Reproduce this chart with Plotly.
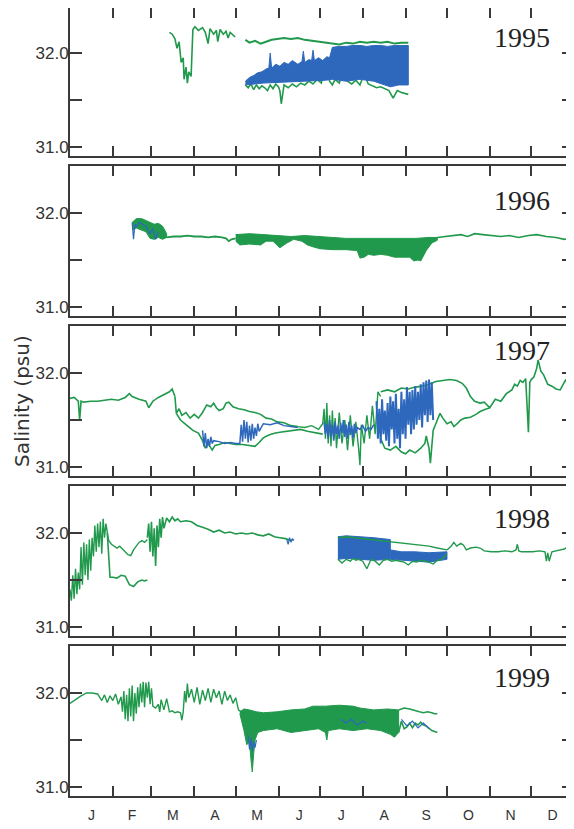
import plotly.graph_objects as go

# ---------------- axis / label data ----------------
years = ["1995", "1996", "1997", "1998", "1999"]
month_starts = [31, 59, 90, 120, 151, 181, 212, 243, 273, 304, 334]
month_mids = [15.5, 45, 74.5, 105, 135.5, 166, 196.5, 227.5, 258, 288.5, 319, 349.5]
month_labels = ["J", "F", "M", "A", "M", "J", "J", "A", "S", "O", "N", "D"]
y_tickvals = [31.0, 31.5, 32.0]
y_ticktext = ["31.0", "", "32.0"]

# ---------------- 1995 ----------------
g95a_d = [72, 74, 76, 77.5, 79, 80.5, 82, 82.6, 84, 85, 86, 87.7, 89, 90.5, 93, 96, 98, 100, 101.4,
          104, 106, 107, 108.7, 111, 113, 114.5, 116, 118, 119.6]
g95a_s = [32.22, 32.20, 32.15, 32.05, 32.12, 31.90, 31.95, 31.72, 31.85, 31.68, 31.80, 31.75, 32.25,
          32.28, 32.24, 32.27, 32.22, 32.10, 32.26, 32.20, 32.24, 32.12, 32.25, 32.20, 32.23, 32.16,
          32.22, 32.19, 32.17]
g95b_d = [127, 130, 134, 138, 142, 146, 150, 155, 160, 165, 170, 175, 180, 185, 190, 195, 200, 205,
          210, 215, 220, 225, 230, 235, 240, 245]
g95b_s = [32.14, 32.11, 32.13, 32.10, 32.12, 32.14, 32.15, 32.16, 32.15, 32.16, 32.14, 32.13, 32.12,
          32.11, 32.10, 32.09, 32.11, 32.10, 32.12, 32.11, 32.12, 32.11, 32.12, 32.10, 32.11, 32.11]
g95c_d = [127, 129, 131, 133, 135, 137, 139, 141, 143, 145, 147, 149, 151, 152, 153, 155, 158, 161,
          164, 167, 170, 173, 176, 179, 182, 185, 188, 190, 192, 195, 198, 201, 204, 207, 210, 213,
          216, 219, 222, 225, 228, 231, 234, 237, 240, 243, 245]
g95c_s = [31.66, 31.63, 31.67, 31.61, 31.66, 31.62, 31.65, 31.63, 31.60, 31.66, 31.62, 31.67, 31.64,
          31.60, 31.46, 31.66, 31.63, 31.67, 31.64, 31.68, 31.66, 31.70, 31.67, 31.72, 31.68, 31.88,
          31.70, 31.66, 31.72, 31.68, 31.82, 31.70, 31.67, 31.71, 31.66, 31.78, 31.67, 31.65, 31.63,
          31.64, 31.62, 31.60, 31.52, 31.60, 31.58, 31.57, 31.56]
b95_hi_d = [127, 130, 133, 136, 139, 142, 144, 145, 146, 149, 152, 155, 158, 161, 165, 168, 169, 170,
            173, 175, 176, 177, 180, 183, 186, 188, 190, 195, 200, 205, 210, 215, 220, 225, 230, 235,
            240, 245]
b95_hi = [31.70, 31.74, 31.76, 31.79, 31.80, 31.83, 31.84, 32.00, 31.84, 31.88, 31.86, 31.90, 31.88,
          31.92, 31.88, 31.91, 32.02, 31.90, 31.93, 31.92, 32.03, 31.92, 31.95, 31.92, 31.96, 31.95,
          32.06, 32.07, 32.07, 32.08, 32.08, 32.07, 32.08, 32.08, 32.07, 32.08, 32.08, 32.08]
b95_lo_d = [127, 140, 155, 170, 185, 190, 200, 210, 220, 225, 232, 238, 245]
b95_lo = [31.66, 31.68, 31.69, 31.70, 31.71, 31.72, 31.70, 31.72, 31.70, 31.68, 31.64, 31.66, 31.66]

# ---------------- 1996 ----------------
g96a_hi_d = [45, 48, 52, 55, 58, 61, 64, 67, 70]
g96a_hi = [31.90, 31.94, 31.94, 31.92, 31.90, 31.88, 31.89, 31.86, 31.78]
g96a_lo_d = [45, 48, 52, 55, 58, 61, 64, 67, 70]
g96a_lo = [31.82, 31.84, 31.82, 31.80, 31.73, 31.72, 31.74, 31.72, 31.74]
g96b_d = [70, 75, 80, 85, 90, 95, 100, 105, 110, 113, 115, 117, 120]
g96b_s = [31.74, 31.75, 31.75, 31.76, 31.75, 31.75, 31.74, 31.75, 31.74, 31.73, 31.70, 31.72, 31.73]
g96c_hi_d = [120, 130, 140, 150, 160, 170, 180, 190, 200, 210, 220, 230, 240, 250, 260, 266]
g96c_hi = [31.77, 31.78, 31.77, 31.76, 31.75, 31.76, 31.75, 31.74, 31.73, 31.73, 31.73, 31.73, 31.73,
           31.73, 31.74, 31.74]
g96c_lo_d = [120, 123, 130, 138, 142, 147, 152, 157, 162, 168, 172, 176, 181, 190, 200, 208, 210, 213,
             216, 220, 225, 230, 235, 240, 246, 249, 252, 254, 258, 262, 266]
g96c_lo = [31.70, 31.66, 31.67, 31.66, 31.70, 31.70, 31.63, 31.68, 31.72, 31.70, 31.66, 31.64, 31.62,
           31.61, 31.61, 31.60, 31.52, 31.53, 31.56, 31.55, 31.56, 31.55, 31.53, 31.53, 31.53, 31.49,
           31.50, 31.49, 31.60, 31.68, 31.71]
g96d_d = [266, 272, 278, 283, 288, 293, 299, 305, 312, 318, 325, 332, 338, 345, 352, 358, 362, 365]
g96d_s = [31.74, 31.75, 31.76, 31.77, 31.75, 31.78, 31.77, 31.76, 31.75, 31.76, 31.74, 31.76, 31.77,
          31.75, 31.74, 31.72, 31.73, 31.74]
b96_d = [45, 46, 47, 48, 50, 55, 58, 60, 62, 64]
b96_s = [31.90, 31.72, 31.88, 31.85, 31.90, 31.86, 31.78, 31.84, 31.72, 31.80]

# ---------------- 1997 ----------------
g97a_d = [0, 3, 6, 7, 8, 10, 15, 20, 25, 30, 35, 40, 43, 45, 50, 55, 57, 60, 64, 68, 72, 74, 76]
g97a_s = [31.73, 31.74, 31.70, 31.50, 31.70, 31.69, 31.70, 31.70, 31.71, 31.72, 31.71, 31.74, 31.78,
          31.75, 31.72, 31.70, 31.63, 31.70, 31.74, 31.77, 31.80, 31.83, 31.75]
g97b_d = [76, 77, 79, 81, 84, 87, 90, 93, 96, 99, 102, 104, 106, 108, 111, 113, 115, 118, 122, 126,
          130, 134, 138, 142, 146, 150, 155, 160, 165]
g97b_s = [31.75, 31.57, 31.62, 31.55, 31.58, 31.52, 31.56, 31.52, 31.58, 31.66, 31.64, 31.68, 31.63,
          31.60, 31.62, 31.68, 31.69, 31.64, 31.62, 31.61, 31.59, 31.58, 31.56, 31.52, 31.51, 31.48,
          31.47, 31.44, 31.43]
g97c_d = [77, 80, 84, 89, 93, 96, 98, 100, 103, 105, 108, 112, 116, 120, 125, 130, 134, 137, 140, 144,
          148, 152, 157, 162, 167, 172, 178, 183]
g97c_s = [31.57, 31.50, 31.45, 31.39, 31.36, 31.28, 31.20, 31.25, 31.18, 31.23, 31.24, 31.26, 31.25,
          31.24, 31.24, 31.23, 31.22, 31.26, 31.31, 31.34, 31.36, 31.37, 31.38, 31.39, 31.40, 31.38,
          31.36, 31.35]
g97d_d = [165, 170, 175, 180, 183, 184, 185, 186, 187, 188, 189, 190, 191, 192, 193, 195, 197, 199,
          201, 203, 205, 207, 209, 210, 211, 213, 215, 217, 219, 221, 223, 225]
g97d_s = [31.43, 31.42, 31.44, 31.40, 31.46, 31.62, 31.30, 31.68, 31.25, 31.55, 31.22, 31.60, 31.30,
          31.52, 31.20, 31.58, 31.25, 31.50, 31.18, 31.55, 31.22, 31.48, 31.20, 31.02, 31.45, 31.25,
          31.55, 31.30, 31.65, 31.35, 31.80, 31.75]
g97e_d = [225, 230, 235, 240, 245, 250, 255, 260, 265, 270, 275, 280, 284, 287, 290, 293, 297, 300,
          304, 308, 312, 316, 320, 322, 324, 326, 328, 330, 332, 333, 334, 336, 338, 339, 341, 343,
          346, 349, 352, 355, 357, 359, 361, 362, 363, 365]
g97e_s = [31.80, 31.82, 31.80, 31.84, 31.83, 31.85, 31.86, 31.88, 31.91, 31.92, 31.93, 31.92, 31.89,
          31.84, 31.75, 31.70, 31.68, 31.69, 31.63, 31.72, 31.70, 31.78, 31.82, 31.88, 31.86, 31.92,
          31.90, 31.94, 31.37, 31.90, 31.93, 31.96, 32.05, 32.14, 32.02, 31.98, 31.88, 31.86, 31.83,
          31.82, 31.88, 31.93, 31.85, 31.70, 31.60, 31.52]
g97f_d = [225, 228, 232, 236, 240, 243, 246, 250, 254, 257, 258, 260, 261, 263, 266, 268, 270, 273,
          276, 278, 281, 283, 286, 290, 294, 297, 300, 304]
g97f_s = [31.30, 31.20, 31.18, 31.22, 31.16, 31.14, 31.18, 31.15, 31.20, 31.25, 31.33, 31.20, 31.04,
          31.39, 31.50, 31.57, 31.52, 31.46, 31.48, 31.43, 31.47, 31.50, 31.52, 31.53, 31.56, 31.59,
          31.61, 31.63]
b97a_d = [96, 97, 98, 99, 100, 101, 102, 103, 104, 108, 112, 116, 120, 123, 124, 125, 126, 127, 128,
          129, 130, 131, 132, 133, 134, 135, 136, 137, 140, 145, 150, 155, 160, 165]
b97a_s = [31.39, 31.22, 31.36, 31.20, 31.30, 31.22, 31.32, 31.25, 31.28, 31.27, 31.25, 31.26, 31.25,
          31.25, 31.45, 31.27, 31.50, 31.30, 31.48, 31.26, 31.44, 31.28, 31.46, 31.30, 31.42, 31.33,
          31.46, 31.38, 31.46, 31.45, 31.47, 31.44, 31.43, 31.42]
b97b_d = [184, 185, 186, 187, 188, 189, 190, 191, 192, 193, 194, 195, 196, 197, 198, 199, 200, 201,
          202, 203, 204, 205, 206, 207, 208, 210, 212, 214, 216, 218, 220]
b97b_s = [31.48, 31.35, 31.46, 31.30, 31.50, 31.33, 31.45, 31.28, 31.48, 31.35, 31.44, 31.30, 31.47,
          31.36, 31.50, 31.32, 31.45, 31.30, 31.48, 31.34, 31.44, 31.31, 31.46, 31.36, 31.42, 31.40,
          31.44, 31.38, 31.42, 31.40, 31.45]
b97c_d = [222, 223, 224, 225, 226, 227, 228, 229, 230, 231, 232, 233, 234, 235, 236, 237, 238, 239,
          240, 241, 242, 243, 244, 245, 246, 247, 248, 249, 250, 251, 252, 253, 254, 255, 256, 257,
          258, 259, 260, 261, 262, 263]
b97c_s = [31.70, 31.30, 31.62, 31.25, 31.72, 31.35, 31.60, 31.28, 31.68, 31.22, 31.75, 31.40, 31.70,
          31.25, 31.78, 31.30, 31.62, 31.20, 31.80, 31.35, 31.72, 31.30, 31.85, 31.45, 31.80, 31.35,
          31.82, 31.40, 31.86, 31.45, 31.80, 31.50, 31.88, 31.42, 31.90, 31.55, 31.92, 31.48, 31.93,
          31.55, 31.90, 31.50]

# ---------------- 1998 ----------------
g98a_d = [0, 1, 2, 3, 4, 5, 6, 7, 8, 9, 10, 11, 12, 13, 14, 15, 16, 17, 18, 19, 20, 21, 22, 23, 24,
          25, 26, 27, 28, 30, 32, 34, 36, 38, 40, 42, 44, 46, 48, 50, 52, 54, 56]
g98a_s = [31.40, 31.28, 31.55, 31.30, 31.62, 31.35, 31.58, 31.40, 31.85, 31.45, 31.90, 31.55, 31.88,
          31.50, 31.93, 31.60, 31.95, 31.75, 32.08, 31.80, 32.10, 31.85, 32.12, 31.78, 32.15, 31.95,
          32.10, 32.02, 31.92, 31.88, 31.86, 31.84, 31.86, 31.83, 31.80, 31.77, 31.76, 31.82, 31.86,
          31.90, 31.92, 31.90, 31.93]
g98b_d = [27, 28, 29, 31, 34, 37, 40, 43, 46, 49, 52, 54, 56]
g98b_s = [32.00, 31.70, 31.53, 31.53, 31.52, 31.55, 31.54, 31.45, 31.43, 31.48, 31.50, 31.49, 31.50]
g98c_d = [56, 57, 58, 59, 60, 61, 62, 63, 64, 65, 66, 67, 68, 70, 72, 74, 76, 78, 80, 84, 88, 92, 96,
          100, 104, 108, 112, 116, 120, 124, 128, 132, 136, 140, 144, 148, 152, 156, 160, 162]
g98c_s = [31.95, 32.10, 31.80, 32.12, 31.75, 32.05, 31.65, 32.08, 31.85, 32.15, 31.95, 32.17, 32.05,
          32.16, 32.12, 32.17, 32.13, 32.15, 32.12, 32.13, 32.12, 32.08, 32.06, 32.04, 32.01, 32.03,
          32.00, 32.01, 31.99, 32.00, 31.99, 32.00, 31.98, 31.97, 31.99, 31.96, 31.95, 31.94, 31.92,
          31.93]
b98a_d = [157, 158, 159, 160, 161, 162]
b98a_s = [31.93, 31.88, 31.95, 31.90, 31.94, 31.92]
b98b_hi_d = [194, 200, 210, 220, 232]
b98b_hi = [31.96, 31.97, 31.96, 31.95, 31.93]
b98b_lo_d = [194, 200, 210, 220, 232]
b98b_lo = [31.72, 31.73, 31.72, 31.71, 31.72]
b98c_hi_d = [232, 240, 250, 260, 273]
b98c_hi = [31.82, 31.80, 31.80, 31.79, 31.80]
b98c_lo_d = [232, 240, 250, 260, 273]
b98c_lo = [31.72, 31.71, 31.70, 31.69, 31.72]
g98d_d = [194, 200, 206, 212, 218, 224, 230, 236, 242, 248, 254, 260, 266, 270, 273]
g98d_s = [31.95, 31.96, 31.95, 31.94, 31.93, 31.92, 31.91, 31.90, 31.89, 31.88, 31.87, 31.86, 31.84,
          31.83, 31.82]
g98e_d = [194, 197, 200, 203, 205, 207, 209, 212, 215, 218, 221, 224, 227, 230, 233, 236, 239, 242,
          245, 248, 251, 254, 257, 260, 263, 266, 269, 273]
g98e_s = [31.72, 31.68, 31.72, 31.70, 31.73, 31.71, 31.72, 31.70, 31.62, 31.72, 31.70, 31.66, 31.71,
          31.72, 31.70, 31.71, 31.70, 31.69, 31.66, 31.70, 31.69, 31.71, 31.70, 31.69, 31.67, 31.71,
          31.72, 31.78]
g98f_d = [273, 276, 278, 280, 283, 285, 287, 290, 294, 297, 300, 305, 310, 315, 320, 323, 324, 325,
          327, 330, 335, 340, 344, 345, 346, 347, 349, 352, 356, 358, 360, 361, 362, 363, 365]
g98f_s = [31.82, 31.86, 31.90, 31.86, 31.89, 31.87, 31.82, 31.84, 31.85, 31.84, 31.81, 31.80, 31.80,
          31.81, 31.80, 31.82, 31.88, 31.81, 31.80, 31.80, 31.80, 31.81, 31.80, 31.70, 31.79, 31.70,
          31.80, 31.81, 31.82, 31.83, 31.85, 31.65, 31.89, 31.87, 31.88]

# ---------------- 1999 ----------------
g99a_d = [0, 4, 8, 12, 16, 20, 23, 25, 27, 29, 31, 33, 35, 37, 38, 39, 40, 41, 42, 43, 44, 45, 46, 47,
          48, 49, 50, 51, 52, 53, 54, 55, 56, 57, 58, 59, 60, 62, 64, 65, 66, 68, 70, 72, 74, 76, 78,
          80, 81, 82, 83, 84, 85, 86, 88, 90, 92, 94, 96, 98, 100, 102, 104, 106, 108, 110, 112, 114,
          116, 118, 120, 122, 124]
g99a_s = [31.89, 31.93, 31.97, 32.00, 32.00, 31.99, 31.92, 31.98, 31.90, 31.97, 31.92, 31.99, 31.88,
          31.96, 31.80, 32.02, 31.72, 31.98, 31.70, 32.05, 31.75, 32.08, 31.70, 32.00, 31.78, 32.06,
          31.85, 32.10, 31.90, 32.12, 31.85, 32.11, 31.95, 32.12, 31.88, 32.05, 31.86, 31.84, 31.88,
          31.80, 31.93, 31.82, 31.94, 31.80, 31.81, 31.79, 31.80, 31.79, 31.71, 31.80, 32.02, 31.90,
          32.10, 31.95, 32.04, 31.90, 32.06, 31.88, 32.03, 31.92, 32.05, 31.90, 32.04, 31.95, 32.02,
          31.88, 32.02, 31.92, 31.98, 31.89, 31.95, 31.82, 31.80]
g99b_hi_d = [123, 126, 130, 135, 140, 150, 160, 170, 176, 185, 195, 205, 210, 220, 230, 238]
g99b_hi = [31.80, 31.83, 31.82, 31.80, 31.79, 31.80, 31.82, 31.83, 31.86, 31.86, 31.87, 31.86, 31.84,
           31.82, 31.83, 31.82]
g99b_lo_d = [123, 126, 128, 130, 131, 132, 133, 134, 136, 140, 150, 160, 170, 180, 185, 186, 187, 195,
             205, 215, 225, 232, 235, 238]
g99b_lo = [31.78, 31.60, 31.45, 31.48, 31.30, 31.16, 31.35, 31.50, 31.58, 31.60, 31.62, 31.58, 31.60,
           31.62, 31.58, 31.50, 31.60, 31.62, 31.60, 31.62, 31.60, 31.56, 31.53, 31.58]
g99c_d = [238, 242, 246, 250, 253, 256, 259, 262, 264, 266]
g99c_s = [31.82, 31.84, 31.83, 31.81, 31.80, 31.79, 31.80, 31.79, 31.78, 31.78]
g99d_d = [238, 240, 242, 244, 246, 248, 250, 252, 254, 256, 258, 260, 262, 264, 266]
g99d_s = [31.58, 31.70, 31.62, 31.64, 31.68, 31.63, 31.68, 31.66, 31.69, 31.66, 31.65, 31.62, 31.60,
          31.59, 31.58]
b99a_d = [129, 130, 131, 132, 133, 134, 135]
b99a_s = [31.55, 31.40, 31.52, 31.38, 31.48, 31.42, 31.50]
b99b_d = [196, 200, 204, 208, 212, 215]
b99b_s = [31.72, 31.68, 31.72, 31.66, 31.70, 31.68]
b99c_d = [240, 244, 248, 252, 256, 260]
b99c_s = [31.72, 31.65, 31.70, 31.63, 31.68, 31.62]

# ---------------- styling / geometry ----------------
GREEN = "#21994c"
BLUE = "#2d68bd"
AXC = "#3a3a3a"
BODY = 8                      # default page margin of the html body
W, H = 574 - BODY, 829 - BODY
M_L, M_R = 70 - BODY, 0
PLOT_TOP, PLOT_BOT = BODY, 796     # page pixel rows of the plotting area
M_T, M_B = PLOT_TOP - BODY, H - (PLOT_BOT - BODY)
PLOT_H = PLOT_BOT - PLOT_TOP
PX_PER_UNIT = 94
panel_tops = [6, 166, 326, 486, 646]
panel_y32 = [53, 213, 373, 533, 693]
PANEL_H = 150
label_offsets = [31, 34, 24, 32, 31]

fig = go.Figure()


def axn(panel):
    return ("x", "y") if panel == 1 else (f"x{panel}", f"y{panel}")


def add_line(panel, d, s, color, width=1.4):
    xa, ya = axn(panel)
    fig.add_trace(go.Scatter(x=d, y=s, mode="lines", line=dict(color=color, width=width),
                             xaxis=xa, yaxis=ya, showlegend=False, hoverinfo="skip"))


def add_band(panel, hd, hi, ld, lo, color):
    xa, ya = axn(panel)
    fig.add_trace(go.Scatter(x=list(hd) + list(ld)[::-1], y=list(hi) + list(lo)[::-1],
                             mode="lines", fill="toself", fillcolor=color,
                             line=dict(color=color, width=1),
                             xaxis=xa, yaxis=ya, showlegend=False, hoverinfo="skip"))


# 1995
add_line(1, g95a_d, g95a_s, GREEN, 1.6)
add_line(1, g95b_d, g95b_s, GREEN, 2.0)
add_line(1, g95c_d, g95c_s, GREEN, 1.6)
add_band(1, b95_hi_d, b95_hi, b95_lo_d, b95_lo, BLUE)
# 1996
add_band(2, g96a_hi_d, g96a_hi, g96a_lo_d, g96a_lo, GREEN)
add_line(2, b96_d, b96_s, BLUE, 1.2)
add_line(2, g96b_d, g96b_s, GREEN, 1.8)
add_band(2, g96c_hi_d, g96c_hi, g96c_lo_d, g96c_lo, GREEN)
add_line(2, g96d_d, g96d_s, GREEN, 1.6)
# 1997
add_line(3, g97a_d, g97a_s, GREEN, 1.6)
add_line(3, g97b_d, g97b_s, GREEN, 1.6)
add_line(3, g97c_d, g97c_s, GREEN, 1.6)
add_line(3, g97d_d, g97d_s, GREEN, 1.4)
add_line(3, g97e_d, g97e_s, GREEN, 1.6)
add_line(3, g97f_d, g97f_s, GREEN, 1.6)
add_line(3, b97a_d, b97a_s, BLUE, 1.5)
add_line(3, b97b_d, b97b_s, BLUE, 1.6)
add_line(3, b97c_d, b97c_s, BLUE, 2.0)
# 1998
add_line(4, g98a_d, g98a_s, GREEN, 1.4)
add_line(4, g98b_d, g98b_s, GREEN, 1.6)
add_line(4, g98c_d, g98c_s, GREEN, 1.6)
add_line(4, b98a_d, b98a_s, BLUE, 1.2)
add_band(4, b98b_hi_d, b98b_hi, b98b_lo_d, b98b_lo, BLUE)
add_band(4, b98c_hi_d, b98c_hi, b98c_lo_d, b98c_lo, BLUE)
add_line(4, g98d_d, g98d_s, GREEN, 1.4)
add_line(4, g98e_d, g98e_s, GREEN, 1.4)
add_line(4, g98f_d, g98f_s, GREEN, 1.4)
# 1999
add_line(5, g99a_d, g99a_s, GREEN, 1.4)
add_band(5, g99b_hi_d, g99b_hi, g99b_lo_d, g99b_lo, GREEN)
add_line(5, g99c_d, g99c_s, GREEN, 1.6)
add_line(5, g99d_d, g99d_s, GREEN, 1.6)
add_line(5, b99a_d, b99a_s, BLUE, 1.2)
add_line(5, b99b_d, b99b_s, BLUE, 1.2)
add_line(5, b99c_d, b99c_s, BLUE, 1.2)

layout = dict(
    width=W, height=H,
    margin=dict(l=M_L, r=M_R, t=M_T, b=M_B, autoexpand=False),
    paper_bgcolor="white", plot_bgcolor="white",
    showlegend=False,
)

annotations = []
for i in range(5):
    n = i + 1
    top = max(panel_tops[i], PLOT_TOP)
    bot = panel_tops[i] + PANEL_H
    dom = [(PLOT_BOT - bot) / PLOT_H, (PLOT_BOT - top) / PLOT_H]
    y_hi = 32 + (panel_y32[i] - top) / PX_PER_UNIT
    y_lo = 32 - (bot - panel_y32[i]) / PX_PER_UNIT
    xk = "xaxis" if n == 1 else f"xaxis{n}"
    yk = "yaxis" if n == 1 else f"yaxis{n}"
    xr, yr = axn(n)
    layout[xk] = dict(domain=[0, 1], anchor=yr, range=[0, 365],
                      tickmode="array", tickvals=month_starts, showticklabels=False,
                      ticks="inside", ticklen=10, tickwidth=2, tickcolor=AXC,
                      showline=True, linecolor=AXC, linewidth=2, mirror="ticks",
                      showgrid=False, zeroline=False, fixedrange=True)
    layout[yk] = dict(domain=dom, anchor=xr, range=[y_lo, y_hi],
                      tickmode="array", tickvals=y_tickvals, ticktext=y_ticktext,
                      ticks="inside", ticklen=12, tickwidth=2, tickcolor=AXC,
                      showline=True, linecolor=AXC, linewidth=2, mirror="ticks",
                      showgrid=False, zeroline=False, ticklabelstandoff=-4,
                      tickfont=dict(family="Liberation Sans, Arial", size=17, color="#333"))
    label_page = panel_tops[i] + label_offsets[i]
    annotations.append(dict(text=years[i], xref=xr, yref=f"{yr} domain", x=327,
                            y=1 - (label_page - top) / (bot - top),
                            xanchor="center", yanchor="middle", showarrow=False,
                            font=dict(family="Liberation Serif, Times New Roman", size=28,
                                      color="#222")))

# month labels on an overlay axis of the bottom panel
layout["xaxis6"] = dict(overlaying="x5", anchor="y5", side="bottom", range=[0, 365],
                        tickmode="array", tickvals=month_mids, ticktext=month_labels,
                        ticks="outside", ticklen=6, tickcolor="rgba(0,0,0,0)",
                        showline=False, showgrid=False, zeroline=False,
                        tickfont=dict(family="Liberation Sans, Arial", size=14, color="#333"))
fig.add_trace(go.Scatter(x=[0, 365], y=[None, None], mode="lines", xaxis="x6", yaxis="y5",
                         showlegend=False, hoverinfo="skip"))

annotations.append(dict(text="Salinity (psu)", xref="paper", yref="paper",
                        x=-48 / (W - M_L - M_R), y=(PLOT_BOT - 401) / PLOT_H,
                        xanchor="center", yanchor="middle", textangle=-90, showarrow=False,
                        borderpad=0,
                        font=dict(family="DejaVu Sans", size=20, color="#333")))
layout["annotations"] = annotations

fig.update_layout(**layout)
fig.write_html("out.html")
